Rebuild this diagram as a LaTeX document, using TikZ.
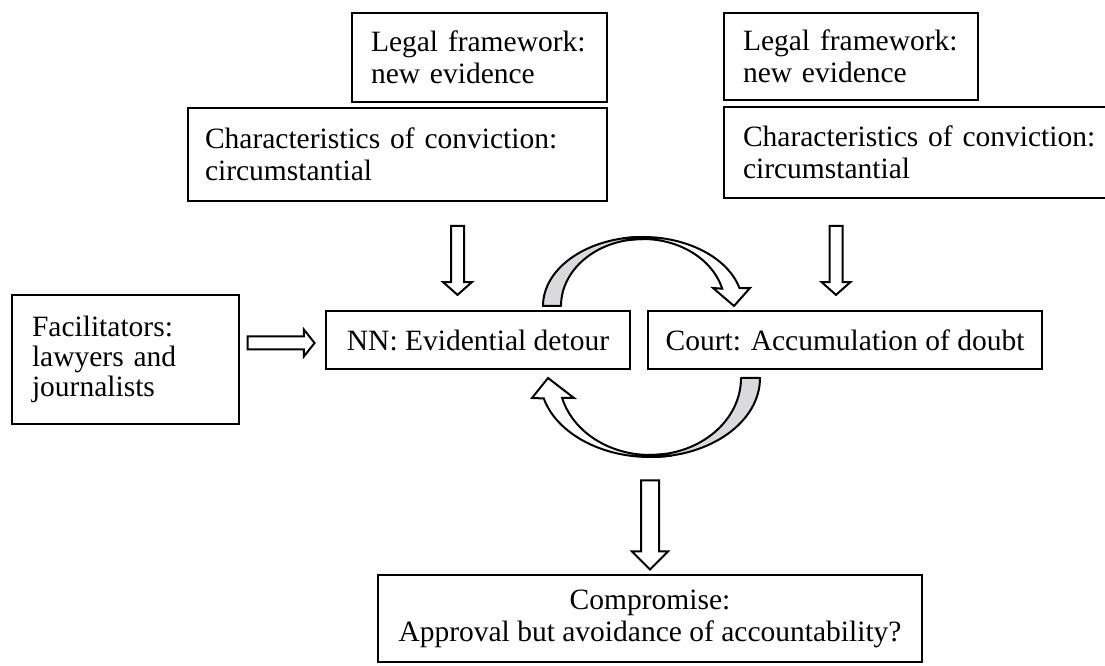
\documentclass[tikz,border=0pt]{standalone}
\usepackage{fontspec}
\setmainfont{Liberation Serif}
\usetikzlibrary{shapes.arrows}
\definecolor{curvegray}{RGB}{218,218,220}
\newcommand\diagfont{\fontsize{29.5}{32}\selectfont}
\begin{document}
\begin{tikzpicture}[x=1pt,y=1pt,
  box/.style={draw=black, line width=1.8pt, font=\diagfont, inner ysep=0pt},
  lbox/.style={box, align=left},
  cbox/.style={box, align=center},
  blk/.style={single arrow, draw=black, fill=white, line width=2pt, inner xsep=0pt, minimum width=0pt},
  backcurve/.style={draw=black, line width=2pt, fill=curvegray, line join=round},
  frontcurve/.style={draw=black, line width=2pt, fill=white, line join=miter}
]
\useasboundingbox (0,0) rectangle (1105,666);
\clip (0,0) rectangle (1105,666);
\fill[white] (0,0) rectangle (1105,666);

% boxes
\node[lbox, minimum width=255pt, minimum height=89pt, inner xsep=19pt, text width=217pt] (legal1) at (479.5,608.5) {Legal framework:\\new evidence};
\node[lbox, minimum width=419pt, minimum height=93pt, inner xsep=17pt, text width=385pt] (char1) at (397.5,511.5) {Characteristics of conviction:\\circumstantial};
\node[lbox, minimum width=254pt, minimum height=87pt, inner xsep=19pt, text width=216pt] (legal2) at (851,609.5) {Legal framework:\\new evidence};
\node[lbox, minimum width=391pt, minimum height=91pt, inner xsep=19pt, text width=353pt] (char2) at (919.5,513.5) {Characteristics of conviction:\\circumstantial};
\node[lbox, minimum width=227pt, minimum height=129pt, inner xsep=20pt, text width=187pt, font=\fontsize{29.5}{30}\selectfont] (fac) at (125.5,306.5) {Facilitators:\\lawyers and\\journalists};
\node[cbox, minimum width=304pt, minimum height=58pt] (nn) at (478,326) {NN: Evidential detour};
\node[cbox, minimum width=394pt, minimum height=58pt] (court) at (845,326) {Court: Accumulation of doubt};
\node[cbox, minimum width=544pt, minimum height=87pt] (comp) at (650,47.5) {Compromise:\\Approval but avoidance of accountability?};

% straight block arrows
\node[blk, rotate=-90, minimum height=69pt, inner ysep=5.5pt, single arrow head extend=8pt, single arrow tip angle=97] (down1) at (457.5,408.5) {};
\node[blk, rotate=-90, minimum height=69pt, inner ysep=5.5pt, single arrow head extend=8pt, single arrow tip angle=97] (down2) at (836,408.5) {};
\node[blk, minimum height=67pt, inner ysep=5.5pt, single arrow head extend=7pt, single arrow tip angle=103] (right1) at (278.5,323) {};
\node[blk, rotate=-90, minimum height=89pt, inner ysep=8pt, single arrow head extend=9pt, single arrow tip angle=90] (down3) at (650,145.5) {};

% top curved arrow (NN -> Court)
\path[backcurve] (543,360) arc[start angle=180, end angle=90, x radius=100, y radius=69]
  -- (643,427) arc[start angle=90, end angle=180, x radius=82, y radius=67] -- cycle;
\path[frontcurve] (625.6,427.95) arc[start angle=100, end angle=15, x radius=100, y radius=69]
  -- (750,378) -- (734,360) -- (713,378) -- (722.2,377.3)
  arc[start angle=15, end angle=100, x radius=82, y radius=67] -- cycle;

% bottom curved arrow (Court -> NN)
\path[backcurve] (760,288) arc[start angle=0, end angle=-90, x radius=110, y radius=79]
  -- (650,211) arc[start angle=-90, end angle=0, x radius=91, y radius=77] -- cycle;
\path[frontcurve] (669.1,210.2) arc[start angle=-80, end angle=-165, x radius=110, y radius=79]
  -- (532,268) -- (548,288) -- (574,268) -- (562.1,268.1)
  arc[start angle=-165, end angle=-80, x radius=91, y radius=77] -- cycle;
\end{tikzpicture}
\end{document}
